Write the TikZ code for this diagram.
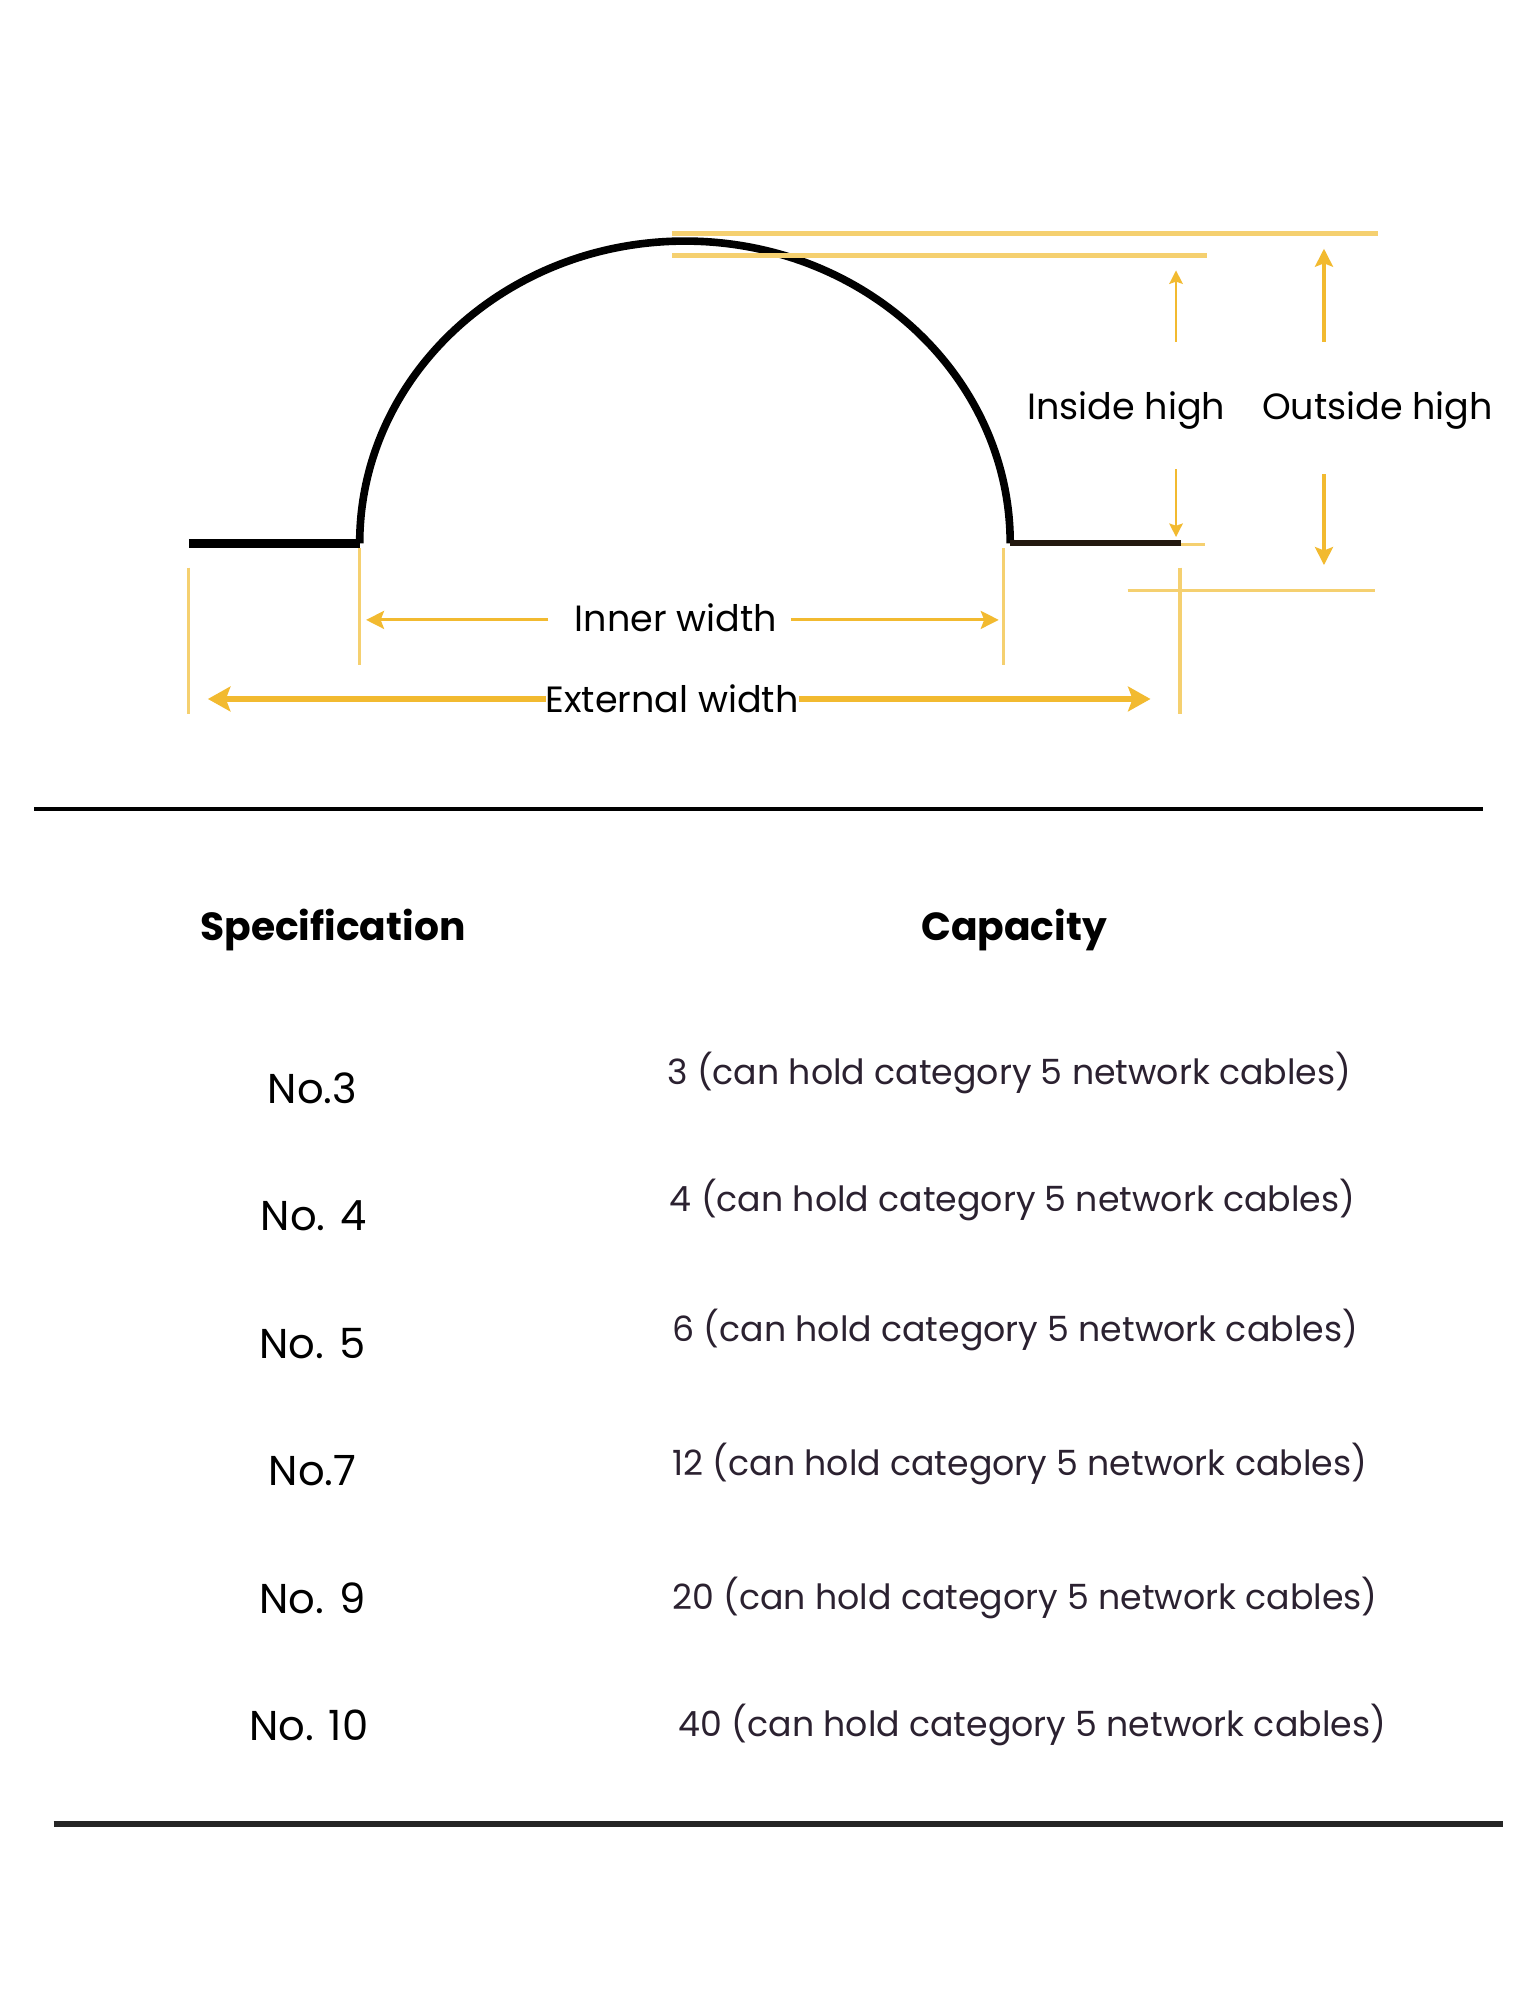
\documentclass[tikz,border=0pt]{standalone}
\usepackage{fontspec}
\setmainfont{Poppins}
\usepackage{tikz}
\usetikzlibrary{arrows.meta,positioning}
\usepackage{xcolor}
\definecolor{dfgold}{RGB}{242,186,48}
\definecolor{dfpalegold}{RGB}{245,208,112}
\definecolor{dfink}{RGB}{43,33,48}
\definecolor{dfbrown}{RGB}{140,100,60}
\tikzstyle{profile} = [line width=3.4pt, color=black, line join=round]
\tikzstyle{guide} = [line width=1.2pt, color=dfpalegold]
\tikzstyle{thinarrow} = [line width=1.1pt, color=dfgold, -{Stealth[length=6pt, width=6pt, inset=1pt]}]
\tikzstyle{midarrow} = [line width=1.7pt, color=dfgold, -{Stealth[length=8pt, width=8pt, inset=1.5pt]}]
\tikzstyle{widearrow} = [line width=2.6pt, color=dfgold, {Stealth[length=10pt, width=11pt, inset=2pt]}-{Stealth[length=10pt, width=11pt, inset=2pt]}]
\tikzstyle{dimlabel} = [font=\fontsize{16.3}{19}\selectfont, inner sep=2pt]
\tikzstyle{header} = [font=\fontsize{17.5}{21}\selectfont\bfseries]
\tikzstyle{spec} = [font=\fontsize{18.6}{22}\selectfont]
\tikzstyle{capacity} = [font=\fontsize{15.5}{19}\selectfont, text=dfink, anchor=west]

\begin{document}
\begin{tikzpicture}[x=0.02cm, y=-0.02cm]
\fill[white] (0,0) rectangle (1200,1568);
\useasboundingbox (0,0) rectangle (1200,1568);

% Profile of the cable cover
\draw[profile, line width=4pt] (148,426) -- (282,426);
\draw[profile] (282,426) arc[start angle=180, end angle=360, x radius=255, y radius=237];
\draw[line width=2.6pt, color=black!75!dfbrown] (792,426) -- (926,426);
\draw[guide] (926,427) -- (945,427);

% Height guides
\draw[guide, line width=2pt] (527,183) -- (1080,183);
\draw[guide, line width=2.2pt] (527,200) -- (946,200);
\draw[guide, line width=1.6pt] (884,463) -- (1078,463);

% Width guides
\draw[guide] (148,445) -- (148,560);
\draw[guide] (282,430) -- (282,521);
\draw[guide] (787,430) -- (787,521);
\draw[guide, line width=1.5pt] (925,445) -- (925,560);

% Inside high
\node[dimlabel] (inside) at (883,322) {Inside high};
\coordinate (insideTop) at (922,212);
\coordinate (insideBot) at (922,421);
\draw[thinarrow] (922,268) -- (insideTop);
\draw[thinarrow] (922,368) -- (insideBot);

% Outside high
\node[dimlabel] (outside) at (1080,322) {Outside high};
\coordinate (outsideTop) at (1038,195);
\coordinate (outsideBot) at (1038,443);
\draw[midarrow] (1038,268) -- (outsideTop);
\draw[midarrow] (1038,372) -- (outsideBot);

% Inner width
\node[dimlabel] (inner) at (530,484) {Inner width};
\coordinate (innerL) at (287,486);
\coordinate (innerR) at (783,486);
\draw[midarrow, line width=1.4pt] (430,486) -- (innerL);
\draw[midarrow, line width=1.4pt] (620,486) -- (innerR);

% External width
\coordinate (extL) at (163,548);
\coordinate (extR) at (902,548);
\draw[widearrow] (extL) -- (extR);
\node[dimlabel, fill=white, inner sep=0pt] (external) at (527,548) {External width};

% Rules of the table
\draw[line width=1.8pt] (27,634) -- (1163,634);
\draw[line width=2.8pt, color=black!85] (42,1430) -- (1178,1430);

% Headings
\node[header] (spechead) at (261,729) {Specification};
\node[header] (caphead) at (795,729) {Capacity};

% Rows
\node[spec] (no3) at (245,853) {No.3};
\node[spec] (no4) at (246,953) {No. 4};
\node[spec] (no5) at (245,1053) {No. 5};
\node[spec] (no7) at (245,1153) {No.7};
\node[spec] (no9) at (245,1253) {No. 9};
\node[spec] (no10) at (242,1353) {No. 10};

\node[capacity] (cap3) at (517,841) {3 (can hold category 5 network cables)};
\node[capacity] (cap4) at (519,941) {4 (can hold category 5 network cables)};
\node[capacity] (cap5) at (521,1043) {6 (can hold category 5 network cables)};
\node[capacity] (cap7) at (521,1148) {12 (can hold category 5 network cables)};
\node[capacity] (cap9) at (521,1253) {20 (can hold category 5 network cables)};
\node[capacity] (cap10) at (526,1352) {40 (can hold category 5 network cables)};
\end{tikzpicture}
\end{document}
